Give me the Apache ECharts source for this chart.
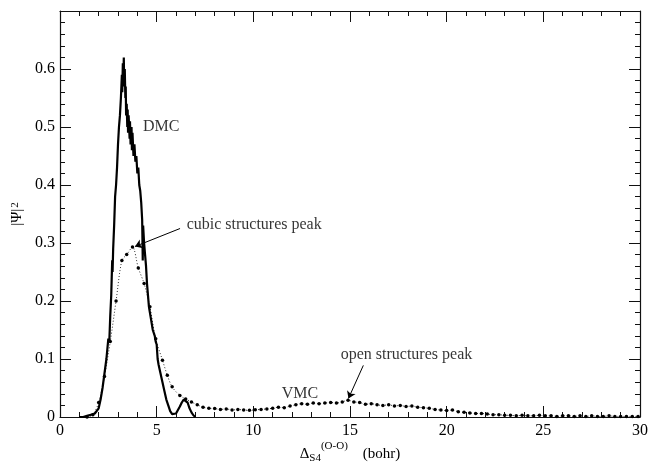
<!DOCTYPE html>
<html>
<head>
<meta charset="utf-8">
<script src="https://cdn.jsdelivr.net/npm/echarts@6/dist/echarts.min.js"></script>
<style>
    html, body { margin: 0; padding: 0; background: #fff; }
    #psi_chart { width: 649px; height: 462px; }
</style>
</head>
<body>
<div id="psi_chart"></div>
<script>
// DMC |Psi|^2, [x (bohr), value]
const dmcData = [
    [1.0, 0.0], [1.2, 0.0], [1.4, 0.002], [1.6, 0.004], [1.8, 0.006], [1.9, 0.008],
    [2.0, 0.015], [2.1, 0.03], [2.2, 0.05], [2.3, 0.075], [2.4, 0.10], [2.5, 0.135],
    [2.55, 0.13], [2.6, 0.175], [2.65, 0.21], [2.7, 0.27], [2.72, 0.25], [2.75, 0.29],
    [2.8, 0.33], [2.85, 0.38], [2.9, 0.40], [2.95, 0.43], [3.0, 0.47], [3.05, 0.50],
    [3.1, 0.52], [3.15, 0.55], [3.2, 0.59], [3.22, 0.56], [3.25, 0.61], [3.28, 0.58],
    [3.3, 0.62], [3.32, 0.57], [3.35, 0.60], [3.38, 0.55], [3.4, 0.57], [3.42, 0.52],
    [3.45, 0.54], [3.48, 0.50], [3.5, 0.53], [3.52, 0.49], [3.55, 0.52], [3.6, 0.48],
    [3.62, 0.51], [3.65, 0.47], [3.7, 0.50], [3.72, 0.46], [3.75, 0.49], [3.8, 0.45],
    [3.85, 0.47], [3.9, 0.44], [3.95, 0.45], [4.0, 0.42], [4.05, 0.43], [4.1, 0.40],
    [4.15, 0.39], [4.2, 0.37], [4.25, 0.34], [4.28, 0.27], [4.3, 0.33], [4.35, 0.30],
    [4.4, 0.28], [4.45, 0.26], [4.5, 0.23], [4.55, 0.21], [4.6, 0.19], [4.7, 0.17],
    [4.8, 0.15], [4.9, 0.14], [4.95, 0.13], [5.0, 0.125], [5.05, 0.10], [5.1, 0.09],
    [5.2, 0.075], [5.3, 0.06], [5.4, 0.045], [5.5, 0.03], [5.6, 0.02], [5.7, 0.01],
    [5.8, 0.005], [5.9, 0.003], [6.0, 0.006], [6.1, 0.012], [6.2, 0.018], [6.3, 0.025],
    [6.4, 0.03], [6.5, 0.033], [6.6, 0.025], [6.7, 0.015], [6.8, 0.008], [6.9, 0.003],
    [7.0, 0.0]
];

// VMC |Psi|^2, [x (bohr), value]
const vmcData = [
    [1.4, 0.0], [1.7, 0.004], [2.0, 0.025], [2.3, 0.07], [2.6, 0.13], [2.9, 0.2],
    [3.2, 0.27], [3.45, 0.28], [3.75, 0.293], [4.05, 0.257], [4.35, 0.23], [4.65, 0.19],
    [4.95, 0.135], [5.3, 0.098], [5.55, 0.072], [5.8, 0.052], [6.2, 0.037], [6.5, 0.031],
    [6.8, 0.026], [7.1, 0.021], [7.4, 0.017], [7.7, 0.015], [8.0, 0.0145], [8.3, 0.013],
    [8.6, 0.014], [8.9, 0.012], [9.2, 0.013], [9.5, 0.012], [9.8, 0.0115], [10.1, 0.0125],
    [10.4, 0.013], [10.7, 0.014], [11.0, 0.015], [11.3, 0.017], [11.6, 0.016], [11.9, 0.019],
    [12.2, 0.021], [12.5, 0.023], [12.8, 0.022], [13.1, 0.024], [13.4, 0.023], [13.7, 0.024],
    [14.0, 0.025], [14.3, 0.024], [14.6, 0.026], [14.9, 0.029], [15.2, 0.026], [15.5, 0.025],
    [15.8, 0.022], [16.1, 0.023], [16.4, 0.021], [16.7, 0.020], [17.0, 0.021], [17.3, 0.019],
    [17.6, 0.020], [17.9, 0.018], [18.2, 0.019], [18.5, 0.017], [18.8, 0.016], [19.1, 0.015],
    [19.4, 0.013], [19.7, 0.012], [20.0, 0.011], [20.3, 0.012], [20.6, 0.009], [20.9, 0.008],
    [21.2, 0.007], [21.5, 0.006], [21.8, 0.006], [22.1, 0.005], [22.4, 0.004], [22.7, 0.004],
    [23.0, 0.003], [23.3, 0.003], [23.6, 0.002], [23.9, 0.003], [24.2, 0.002], [24.5, 0.002],
    [24.8, 0.003], [25.1, 0.002], [25.4, 0.002], [25.7, 0.001], [26.0, 0.002], [26.3, 0.002],
    [26.6, 0.001], [26.9, 0.002], [27.2, 0.001], [27.5, 0.002], [27.8, 0.001], [28.1, 0.001],
    [28.4, 0.002], [28.7, 0.001], [29.0, 0.001], [29.3, 0.001], [29.6, 0.001], [29.9, 0.001]
];

// text annotations: [x, y, text] (left edge, vertical centre)
const noteData = [
    [4.29, 0.501, 'DMC'],
    [6.55, 0.332, 'cubic structures peak'],
    [14.52, 0.107, 'open structures peak'],
    [11.47, 0.040, 'VMC']
];

// arrows: [from, to]
const arrowData = [
    [[6.21, 0.325], [3.88, 0.294]],
    [[15.69, 0.089], [14.92, 0.032]]
];

const xTicks = {min: 0, max: 30, interval: 5};
const yTicks = {min: 0, max: 0.7, interval: 0.1};

const font = 'Liberation Serif';
const ink = '#000';

function frameAxis(pos, ticks, showLabel) {
    return {
        type: 'value',
        position: pos,
        min: ticks.min,
        max: ticks.max,
        interval: ticks.interval,
        axisLine: {show: true, onZero: false, lineStyle: {color: '#111', width: 1.2}},
        axisTick: {show: true, inside: true, length: 11, lineStyle: {color: '#111', width: 1}},
        minorTick: {show: true, splitNumber: 5, length: 5, lineStyle: {color: '#111', width: 1}},
        splitLine: {show: false},
        minorSplitLine: {show: false},
        axisLabel: {show: showLabel, color: ink, fontFamily: font, fontSize: 16}
    };
}

const xBottom = frameAxis('bottom', xTicks, true);
xBottom.axisLabel.margin = 6;
xBottom.name = '{base|Δ}{sub|S4}{sup|(O-O)}{base|    (bohr)}';
xBottom.nameLocation = 'middle';
xBottom.nameGap = 24;
xBottom.nameMoveOverlap = false;
xBottom.nameTextStyle = {
    color: ink, fontFamily: font, fontSize: 15,
    rich: {
        base: {color: ink, fontFamily: font, fontSize: 15, verticalAlign: 'middle'},
        sub: {color: ink, fontFamily: font, fontSize: 11, verticalAlign: 'middle', padding: [8, 0, 0, 0]},
        sup: {color: ink, fontFamily: font, fontSize: 11, verticalAlign: 'middle', padding: [0, 0, 16, 0]}
    }
};

const yLeft = frameAxis('left', yTicks, true);
yLeft.axisLabel.margin = 5;
yLeft.axisLabel.formatter = function (v) {
    return v > 0.65 ? '' : String(Math.round(v * 10) / 10);
};
yLeft.name = '|Ψ|{sup|2}';
yLeft.nameLocation = 'middle';
yLeft.nameRotate = 90;
yLeft.nameGap = 35;
yLeft.nameMoveOverlap = false;
yLeft.nameTextStyle = {
    color: ink, fontFamily: font, fontSize: 15,
    rich: {
        sup: {color: ink, fontFamily: font, fontSize: 11, lineHeight: 10, verticalAlign: 'top', padding: [0, 0, 6, 1]}
    }
};

const option = {
    animation: false,
    backgroundColor: '#fff',
    grid: {left: 60, right: 9, top: 11, bottom: 45, containLabel: false, outerBoundsMode: 'none'},
    xAxis: [xBottom, frameAxis('top', xTicks, false)],
    yAxis: [yLeft, frameAxis('right', yTicks, false)],
    series: [
        {
            name: 'VMC',
            type: 'line',
            data: vmcData,
            smooth: 0.3,
            symbol: 'circle',
            symbolSize: 3.5,
            showSymbol: true,
            itemStyle: {color: '#000'},
            lineStyle: {color: '#333', width: 1, type: [1, 2]},
            z: 3
        },
        {
            name: 'DMC',
            type: 'line',
            data: dmcData,
            symbol: 'none',
            lineStyle: {color: '#000', width: 2.2},
            z: 4
        },
        {
            name: 'notes',
            type: 'scatter',
            data: noteData.map(d => ({value: [d[0], d[1]], name: d[2]})),
            symbolSize: 0,
            silent: true,
            label: {
                show: true,
                position: 'right',
                distance: 0,
                formatter: p => p.name,
                color: ink,
                fontFamily: font,
                fontSize: 16
            },
            markLine: {
                silent: true,
                symbol: ['none', 'arrow'],
                symbolSize: 7,
                label: {show: false},
                lineStyle: {color: ink, width: 1, type: 'solid', opacity: 1},
                emphasis: {disabled: true},
                data: arrowData.map(a => [{coord: a[0]}, {coord: a[1]}])
            },
            z: 5
        }
    ]
};

const chart = echarts.init(document.getElementById('psi_chart'));
chart.setOption(option);

window.addEventListener('resize', function () {
    chart.resize();
});
</script>
</body>
</html>
